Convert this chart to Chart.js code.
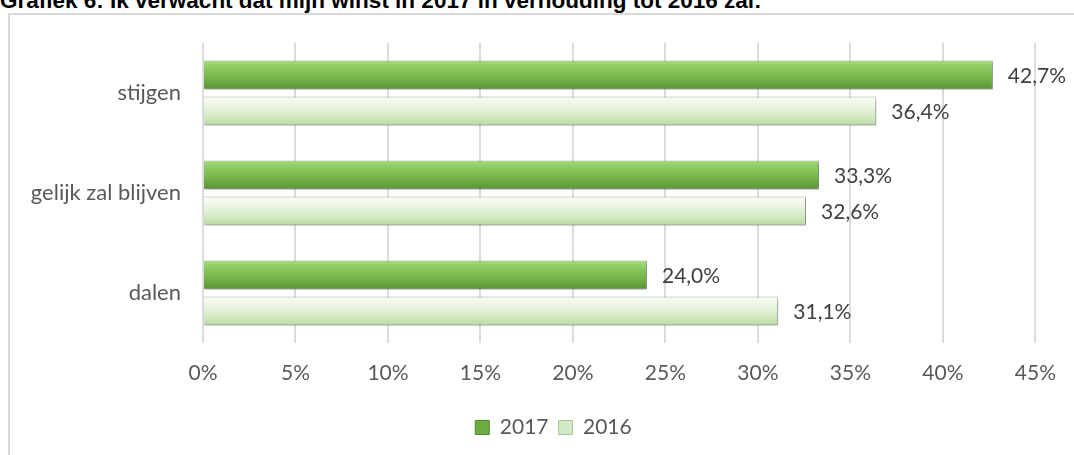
<!DOCTYPE html>
<html>
<head>
<meta charset="utf-8">
<script src="https://cdn.jsdelivr.net/npm/chart.js@4.4.1/dist/chart.umd.min.js"></script>
<style>
  html, body { margin: 0; padding: 0; background: #fff; overflow: hidden; }
  #wrap { position: relative; width: 1074px; height: 455px; }
  #frame { position: absolute; left: 8px; top: 13px; width: 1080px; height: 460px; border: 2px solid #d9d9d9; box-sizing: border-box; }
  #title { position: absolute; left: 0px; top: -10px; font: bold 22.5px "Liberation Sans", Arial, sans-serif; line-height: 22px; color: #000; white-space: nowrap; }
  #c { position: absolute; left: 0; top: 0; }
</style>
</head>
<body>
<div id="wrap">
  <div id="frame"></div>
  <div id="title">Grafiek 6: Ik verwacht dat mijn winst in 2017 in verhouding tot 2016 zal:</div>
  <canvas id="c" width="1074" height="455"></canvas>
</div>
<script>
const categories = ["stijgen", "gelijk zal blijven", "dalen"];
const seriesNames = ["2017", "2016"];
const values2017 = [42.7, 33.3, 24.0];
const values2016 = [36.4, 32.6, 31.1];
const xTicks = [0, 5, 10, 15, 20, 25, 30, 35, 40, 45];

const CAT_PCT = 0.72, BAR_PCT = 0.8;
const FONT = 'Lato, "Open Sans", sans-serif';
const LEGEND_SHIFT = 34;

const grads = [
  [[0, '#a4dc7e'], [0.2, '#8fcd64'], [0.6, '#74b54a'], [1, '#5a9434']],
  [[0, '#fafdf7'], [0.3, '#ecf6e4'], [0.7, '#d3eac3'], [1, '#bad8a5']]
];

function barFill(ctx) {
  const chart = ctx.chart;
  const ys = chart.scales && chart.scales.y;
  const st = grads[ctx.datasetIndex];
  if (!ys || !chart.chartArea || ctx.dataIndex === undefined) return st[2][1];
  const band = ys.getPixelForValue(ctx.dataIndex);
  const size = (ys.bottom - ys.top) / categories.length;
  const full = size * CAT_PCT, slot = full / 2;
  const center = band - full / 2 + slot * (ctx.datasetIndex + 0.5);
  const half = slot * BAR_PCT / 2;
  const g = chart.ctx.createLinearGradient(0, center - half, 0, center + half);
  st.forEach(s => g.addColorStop(s[0], s[1]));
  return g;
}

const shadowPlugin = {
  id: 'barShadow',
  afterLayout(chart) {
    if (chart.legend) { chart.legend.left += LEGEND_SHIFT; chart.legend.right += LEGEND_SHIFT; }
  },
  beforeDatasetsDraw(chart) {
    const c = chart.ctx;
    c.save();
    c.shadowColor = 'rgba(0,0,0,0.35)';
    c.shadowBlur = 4;
    c.shadowOffsetX = 1;
    c.shadowOffsetY = 2;
  },
  afterDatasetsDraw(chart) {
    chart.ctx.restore();
  }
};

const labelPlugin = {
  id: 'valueLabels',
  afterDatasetsDraw(chart) {
    const c = chart.ctx;
    c.save();
    c.font = '21px ' + FONT;
    c.fillStyle = '#404040';
    c.textAlign = 'left';
    c.textBaseline = 'middle';
    chart.data.datasets.forEach((ds, di) => {
      const meta = chart.getDatasetMeta(di);
      meta.data.forEach((el, i) => {
        const txt = ds.data[i].toFixed(1).replace('.', ',') + '%';
        c.fillText(txt, el.x + 15, el.y + 1);
      });
    });
    c.restore();
  }
};

new Chart(document.getElementById('c'), {
  type: 'bar',
  data: {
    labels: categories,
    datasets: [
      { label: seriesNames[0], data: values2017, backgroundColor: barFill, borderColor: 'rgba(80,110,60,0.55)', borderWidth: 1, categoryPercentage: CAT_PCT, barPercentage: BAR_PCT },
      { label: seriesNames[1], data: values2016, backgroundColor: barFill, borderColor: 'rgba(110,130,100,0.55)', borderWidth: 1, categoryPercentage: CAT_PCT, barPercentage: BAR_PCT }
    ]
  },
  options: {
    indexAxis: 'y',
    responsive: false,
    animation: false,
    layout: { padding: { top: 43, right: 35, left: 0, bottom: 7 } },
    scales: {
      x: {
        min: 0, max: 45,
        afterBuildTicks(s) { s.ticks = xTicks.map(v => ({ value: v })); },
        afterFit(s) { s.height = 64; },
        grid: { color: '#dcdcdc', lineWidth: 2, drawTicks: false },
        border: { display: false },
        ticks: { padding: 18, color: '#595959', font: { family: FONT, size: 21 }, callback: v => v + '%' }
      },
      y: {
        afterFit(s) { s.width = 203; },
        grid: { display: false, drawTicks: false },
        border: { display: false },
        ticks: { padding: 22, color: '#595959', font: { family: FONT, size: 22 } }
      }
    },
    plugins: {
      tooltip: { enabled: false },
      legend: {
        position: 'bottom',
        labels: {
          boxWidth: 14, boxHeight: 14, padding: 10, color: '#595959',
          font: { family: FONT, size: 21 },
          generateLabels(chart) {
            const fills = ['#6cab42', '#d3e8c6'];
            const borders = ['#4f8a2d', '#a9c59a'];
            return chart.data.datasets.map((ds, i) => ({
              text: ds.label, fillStyle: fills[i], strokeStyle: borders[i], lineWidth: 1,
              hidden: false, datasetIndex: i, fontColor: '#595959'
            }));
          }
        }
      }
    }
  },
  plugins: [shadowPlugin, labelPlugin]
});
</script>
</body>
</html>
